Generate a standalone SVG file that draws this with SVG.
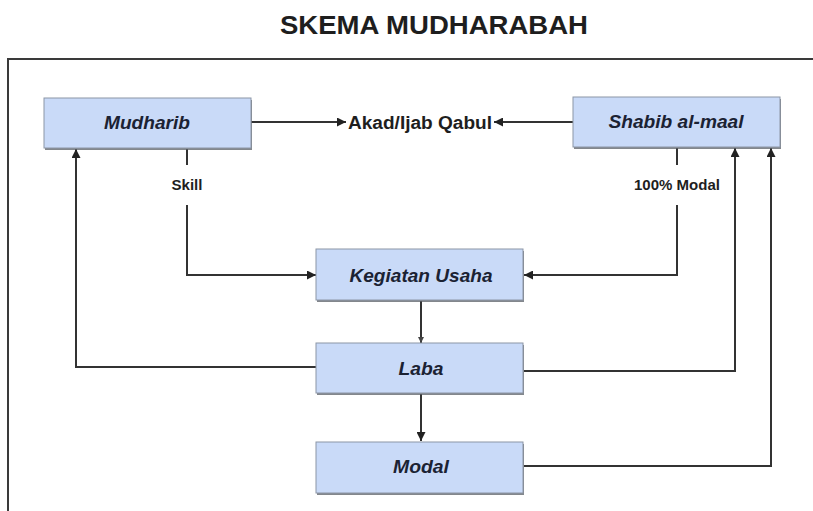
<svg xmlns="http://www.w3.org/2000/svg" width="813" height="511" viewBox="0 0 813 511">
<style>
.box{fill:#c9daf8;stroke:#8c96a6;stroke-width:1}
.shadow{fill:#5a5f66;opacity:0.75}
.lbl{font-family:"Liberation Sans",Arial,sans-serif;font-weight:bold;font-style:italic;font-size:18.5px;fill:#1b2233;text-anchor:middle}
.txt{font-family:"Liberation Sans",Arial,sans-serif;font-weight:bold;fill:#1e1e1e;text-anchor:middle}
.conn{fill:none;stroke:#333;stroke-width:2}
</style>
<defs>
<marker id="ah" viewBox="0 0 10 10" refX="10" refY="5" markerWidth="4.5" markerHeight="4.5" orient="auto" markerUnits="strokeWidth">
<path d="M0,0 L10,5 L0,10 z" fill="#222"/>
</marker>
<marker id="ahs" viewBox="0 0 10 10" refX="10" refY="5" markerWidth="3" markerHeight="3" orient="auto" markerUnits="strokeWidth">
<path d="M0,0 L10,5 L0,10 z" fill="#444"/>
</marker>
</defs>
<rect width="813" height="511" fill="#ffffff"/>
<text x="434" y="34" class="txt" font-size="26" textLength="308" lengthAdjust="spacingAndGlyphs">SKEMA MUDHARABAH</text>
<rect x="8" y="59" width="830" height="480" fill="none" stroke="#3a3a3a" stroke-width="2"/>

<g id="connectors">
<path class="conn" d="M251,122 H346" marker-end="url(#ah)"/>
<path class="conn" d="M573,122 H494" marker-end="url(#ah)"/>
<path class="conn" d="M187,149 V165"/>
<path class="conn" d="M187,205 V275 H316" marker-end="url(#ah)"/>
<path class="conn" d="M677,148 V165"/>
<path class="conn" d="M677,205 V275 H524" marker-end="url(#ah)"/>
<path class="conn" stroke-width="1.5" d="M421,301 V343" marker-end="url(#ahs)"/>
<path class="conn" d="M421,394 V441" marker-end="url(#ah)"/>
<path class="conn" d="M316,367 H76 V149" marker-end="url(#ah)"/>
<path class="conn" d="M524,371 H735 V148" marker-end="url(#ah)"/>
<path class="conn" d="M524,466 H771 V148" marker-end="url(#ah)"/>
<text x="187" y="190" class="txt" font-size="14.5" textLength="31" lengthAdjust="spacingAndGlyphs">Skill</text>
<text x="677" y="190" class="txt" font-size="14.5" textLength="86" lengthAdjust="spacingAndGlyphs">100% Modal</text>
<text x="420" y="129" class="txt" font-size="18" textLength="144" lengthAdjust="spacingAndGlyphs">Akad/Ijab Qabul</text>
</g>

<g id="mudharib">
<rect class="shadow" x="45" y="100" width="207" height="50"/>
<rect class="box" x="44" y="98" width="207" height="50"/>
<text class="lbl" x="147" y="129" textLength="86" lengthAdjust="spacingAndGlyphs">Mudharib</text>
</g>
<g id="shabib">
<rect class="shadow" x="574" y="99" width="207" height="50"/>
<rect class="box" x="573" y="97" width="207" height="50"/>
<text class="lbl" x="676" y="128" textLength="135" lengthAdjust="spacingAndGlyphs">Shabib al-maal</text>
</g>
<g id="kegiatan">
<rect class="shadow" x="317" y="251" width="207" height="51"/>
<rect class="box" x="316" y="249" width="207" height="51"/>
<text class="lbl" x="421" y="282" textLength="143" lengthAdjust="spacingAndGlyphs">Kegiatan Usaha</text>
</g>
<g id="laba">
<rect class="shadow" x="317" y="345" width="207" height="50"/>
<rect class="box" x="316" y="343" width="207" height="50"/>
<text class="lbl" x="421" y="375" textLength="45" lengthAdjust="spacingAndGlyphs">Laba</text>
</g>
<g id="modal">
<rect class="shadow" x="317" y="444" width="207" height="51"/>
<rect class="box" x="316" y="442" width="207" height="51"/>
<text class="lbl" x="421" y="473" textLength="56" lengthAdjust="spacingAndGlyphs">Modal</text>
</g>
</svg>
